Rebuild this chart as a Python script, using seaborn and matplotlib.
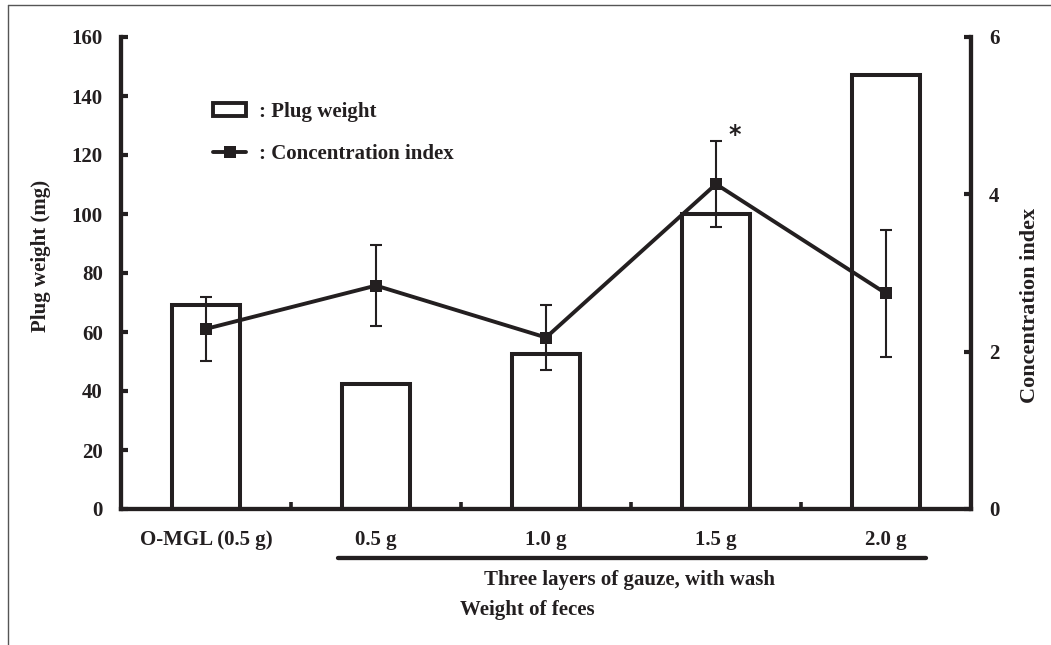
import matplotlib
matplotlib.use("Agg")
import matplotlib.pyplot as plt
import seaborn as sns
import numpy as np
import pandas as pd
from matplotlib.lines import Line2D
from matplotlib.patches import Patch

# ---- data ----
categories = ["O-MGL (0.5 g)", "0.5 g", "1.0 g", "1.5 g", "2.0 g"]
plug_weight = [69, 42.5, 52.5, 100, 147]
conc_index = [2.29, 2.84, 2.18, 4.13, 2.74]
conc_err = [0.41, 0.52, 0.41, 0.55, 0.81]
left_ticks = [0, 20, 40, 60, 80, 100, 120, 140, 160]
right_ticks = [0, 2, 4, 6]
group_label = "Three layers of gauze, with wash"
x_title = "Weight of feces"
y_left_title = "Plug weight (mg)"
y_right_title = "Concentration index"
legend_labels = [": Plug weight", ": Concentration index"]

INK = "#231f20"
W, H = 1051, 645

sns.set_theme(style="white")
plt.rcParams["font.family"] = ["Liberation Serif", "DejaVu Serif"]
plt.rcParams["font.weight"] = "bold"
FS = 15

fig = plt.figure(figsize=(W / 100, H / 100), dpi=100)
ax = fig.add_axes([121 / W, 1 - 509 / H, (971 - 121) / W, (509 - 37) / H])

df = pd.DataFrame({"cat": categories, "plug": plug_weight})
sns.barplot(data=df, x="cat", y="plug", color="white", edgecolor=INK,
            linewidth=2.9, width=0.4, saturation=1, ax=ax, zorder=2)
for p in ax.patches:
    p.set_facecolor("white")

ax.set_xlim(-0.5, 4.5)
ax.set_ylim(0, 160)
ax.set_yticks(left_ticks)
ax.set_xticks(range(len(categories)))
ax.set_xticklabels(categories, fontsize=FS, fontweight="bold", color=INK)
ax.set_xticks([0.5, 1.5, 2.5, 3.5], minor=True)
ax.tick_params(axis="x", which="major", length=0, pad=15)
ax.tick_params(axis="x", which="minor", direction="in", length=5, width=2.6,
               color=INK, bottom=True)
ax.tick_params(axis="y", direction="in", length=5, width=3, color=INK,
               labelsize=FS, pad=13, left=True)
for lab in ax.get_yticklabels():
    lab.set_fontweight("bold")
    lab.set_color(INK)
ax.set_xlabel("")
ax.set_ylabel("")
for s in ["top", "right"]:
    ax.spines[s].set_visible(False)
for s in ["left", "bottom"]:
    ax.spines[s].set_linewidth(3.1)
    ax.spines[s].set_color(INK)
    ax.spines[s].set_capstyle("projecting")

# ---- right axis ----
ax2 = ax.twinx()
xpos = np.arange(len(categories))
sns.lineplot(x=xpos, y=conc_index, ax=ax2, color=INK, linewidth=2.8,
             marker="s", markersize=9, markeredgewidth=0, zorder=3)
ax2.errorbar(xpos, conc_index, yerr=conc_err, fmt="none", ecolor=INK,
             elinewidth=1.5, capsize=4, capthick=1.5, zorder=4)
ax2.set_ylim(0, 6)
ax2.set_yticks(right_ticks)
ax2.tick_params(axis="y", direction="in", length=5, width=3, color=INK,
                labelsize=FS, pad=13, right=True)
for lab in ax2.get_yticklabels():
    lab.set_fontweight("bold")
    lab.set_color(INK)
ax2.set_ylabel("")
for s in ["top", "left", "bottom"]:
    ax2.spines[s].set_visible(False)
ax2.spines["right"].set_linewidth(3.1)
ax2.spines["right"].set_color(INK)

# significance mark
ax2.text(3.11, 4.76, "*", fontsize=17, color=INK, ha="center", va="center",
         fontfamily="DejaVu Sans")

# ---- legend ----
handles = [
    Patch(facecolor="white", edgecolor=INK, linewidth=2.8),
    Line2D([0], [0], color=INK, lw=2.8, marker="s", markersize=9,
           markeredgewidth=0),
]
leg = ax.legend(handles, legend_labels, loc="upper left",
                bbox_to_anchor=(213 / W, 1 - 102 / H),
                bbox_transform=fig.transFigure, frameon=False,
                prop={"family": "Liberation Serif", "weight": "bold", "size": FS},
                handlelength=1.6, handleheight=0.6, handletextpad=0.6,
                labelspacing=1.05, borderpad=0, borderaxespad=0)
for t in leg.get_texts():
    t.set_color(INK)

# ---- group underline and titles ----
fig.add_artist(Line2D([338 / W, 926 / W], [1 - 558 / H, 1 - 558 / H],
                      transform=fig.transFigure, color=INK, lw=3.1))
fig.text(629 / W, 1 - 580 / H, group_label, ha="center", va="center",
         fontsize=FS, fontweight="bold", color=INK)
fig.text(527 / W, 1 - 610 / H, x_title, ha="center", va="center",
         fontsize=FS, fontweight="bold", color=INK)
fig.text(41 / W, 1 - 256 / H, y_left_title, ha="center", va="center",
         rotation=90, fontsize=FS, fontweight="bold", color=INK)
fig.text(1030 / W, 1 - 305 / H, y_right_title, ha="center", va="center",
         rotation=90, fontsize=FS + 1, fontweight="bold", color=INK)

# ---- outer frame (left and top) ----
fig.add_artist(Line2D([8 / W, 8 / W], [0, 1 - 5 / H], transform=fig.transFigure,
                      color="#555555", lw=1))
fig.add_artist(Line2D([8 / W, 1], [1 - 5 / H, 1 - 5 / H], transform=fig.transFigure,
                      color="#555555", lw=1))

fig.savefig("out.png", dpi=100, facecolor="white")
